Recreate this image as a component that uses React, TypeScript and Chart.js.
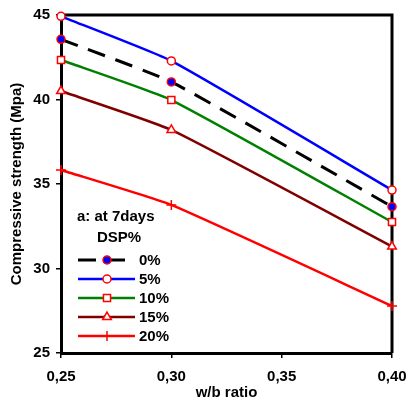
import React, { useEffect, useRef } from 'react';
import { Chart, registerables } from 'chart.js';
import { drawPoint } from 'chart.js/helpers';

Chart.register(...registerables);

const wbRatio = [0.25, 0.3, 0.4];
const dsp0 = [43.56, 41.04, 33.66];
const dsp5 = [44.92, 42.28, 34.64];
const dsp10 = [42.34, 39.97, 32.75];
const dsp15 = [40.5, 38.2, 31.3];
const dsp20 = [35.83, 33.76, 27.78];
const seriesLabels = ['0%', '5%', '10%', '15%', '20%'];
const xTickValues = [0.25, 0.3, 0.35, 0.4];
const xTickLabels = ['0,25', '0,30', '0,35', '0,40'];
const yTickValues = [25, 30, 35, 40, 45];
const legendTitle = ['a: at 7days', 'DSP%'];

const FONT = "'Liberation Sans', Arial, sans-serif";

const toPoints = (vals: number[]) => vals.map((y, i) => ({ x: wbRatio[i], y }));

// frame on top/right edges of the plot
const framePlugin = {
  id: 'frame',
  beforeDatasetsDraw(chart: any) {
    const { ctx, chartArea: a } = chart;
    ctx.save();
    ctx.strokeStyle = '#000';
    ctx.lineWidth = 3;
    ctx.beginPath();
    ctx.moveTo(a.left, a.top);
    ctx.lineTo(a.right, a.top);
    ctx.lineTo(a.right, a.bottom);
    ctx.stroke();
    ctx.restore();
  },
};

// legend inside the plot, lower left
const insideLegend = {
  id: 'insideLegend',
  afterDatasetsDraw(chart: any) {
    const { ctx, chartArea: a } = chart;
    const x0 = a.left + 17;
    ctx.save();
    ctx.fillStyle = '#000';
    ctx.font = `bold 15px ${FONT}`;
    ctx.textBaseline = 'middle';
    ctx.textAlign = 'left';
    ctx.fillText(legendTitle[0], x0 - 1, a.top + 202);
    ctx.fillText(legendTitle[1], x0 + 19, a.top + 223);

    chart.data.datasets.forEach((ds: any, i: number) => {
      const y = a.top + 245 + i * 19;
      const end = i === 0 ? x0 + 52 : x0 + 57;
      ctx.save();
      ctx.strokeStyle = ds.borderColor;
      ctx.lineWidth = ds.borderWidth;
      ctx.setLineDash(ds.borderDash || []);
      ctx.beginPath();
      ctx.moveTo(x0, y);
      ctx.lineTo(end, y);
      ctx.stroke();
      ctx.setLineDash([]);
      ctx.fillStyle = ds.pointBackgroundColor;
      ctx.strokeStyle = ds.pointBorderColor;
      ctx.lineWidth = ds.pointBorderWidth;
      drawPoint(ctx, { pointStyle: ds.pointStyle, radius: ds.pointRadius, rotation: 0, borderWidth: ds.pointBorderWidth }, x0 + 29, y);
      ctx.restore();
      ctx.fillStyle = '#000';
      ctx.fillText(ds.label, x0 + 61, y + 1);
    });
    ctx.restore();
  },
};

export default function App() {
  const canvasRef = useRef<HTMLCanvasElement>(null);
  const chartRef = useRef<Chart | null>(null);

  useEffect(() => {
    if (!canvasRef.current) return;
    if (chartRef.current) chartRef.current.destroy();

    const common = { tension: 0.15, clip: false as any, pointBorderColor: '#ff0000', pointBorderWidth: 1.5 };

    chartRef.current = new Chart(canvasRef.current, {
      type: 'line',
      data: {
        datasets: [
          { ...common, label: seriesLabels[0], data: toPoints(dsp0), borderColor: '#000000', borderWidth: 3, borderDash: [18, 11], pointStyle: 'circle', pointRadius: 4, pointBackgroundColor: '#0000ff' },
          { ...common, label: seriesLabels[1], data: toPoints(dsp5), borderColor: '#0000ff', borderWidth: 2.5, pointStyle: 'circle', pointRadius: 4, pointBackgroundColor: '#ffffff' },
          { ...common, label: seriesLabels[2], data: toPoints(dsp10), borderColor: '#008000', borderWidth: 2.5, pointStyle: 'rect', pointRadius: 5, pointBackgroundColor: '#ffffff' },
          { ...common, label: seriesLabels[3], data: toPoints(dsp15), borderColor: '#800000', borderWidth: 2.5, pointStyle: 'triangle', pointRadius: 5, pointBackgroundColor: '#ffffff' },
          { ...common, label: seriesLabels[4], data: toPoints(dsp20), borderColor: '#ff0000', borderWidth: 2.5, pointStyle: 'cross', pointRadius: 5, pointBackgroundColor: '#ff0000' },
        ] as any,
      },
      options: {
        responsive: false,
        animation: false,
        layout: { padding: { top: 15, right: 17, left: 0, bottom: 0 } },
        plugins: {
          legend: { display: false },
          tooltip: { enabled: false },
        },
        scales: {
          x: {
            type: 'linear',
            min: 0.25,
            max: 0.4,
            afterBuildTicks: (scale: any) => {
              scale.ticks = xTickValues.map(v => ({ value: v }));
            },
            afterFit: (scale: any) => {
              scale.height = 47;
              scale.paddingLeft = 0;
              scale.paddingRight = 0;
            },
            ticks: {
              color: '#000',
              font: { family: FONT, size: 15, weight: 'bold' },
              padding: 10,
              maxRotation: 0,
              autoSkip: false,
              callback: (_v: any, i: number) => xTickLabels[i],
            },
            grid: { drawOnChartArea: false, drawTicks: true, tickLength: 5, color: '#000', lineWidth: 1.5 },
            border: { color: '#000', width: 3 },
            title: {
              display: true,
              text: 'w/b ratio',
              color: '#000',
              font: { family: FONT, size: 15, weight: 'bold' },
              padding: { top: 0, bottom: -2 },
            },
          },
          y: {
            min: 25,
            max: 45,
            afterBuildTicks: (scale: any) => {
              scale.ticks = yTickValues.map(v => ({ value: v }));
            },
            afterFit: (scale: any) => {
              scale.width = 61;
              scale.paddingTop = 0;
              scale.paddingBottom = 0;
            },
            ticks: {
              color: '#000',
              font: { family: FONT, size: 15, weight: 'bold' },
              padding: 6,
              callback: (v: any) => String(v),
            },
            grid: { drawOnChartArea: false, drawTicks: true, tickLength: 5, color: '#000', lineWidth: 1.5 },
            border: { color: '#000', width: 3 },
            title: {
              display: true,
              text: 'Compressive strength (Mpa)',
              color: '#000',
              font: { family: FONT, size: 15, weight: 'bold' },
              padding: { top: 8, bottom: 0 },
            },
          },
        },
      },
      plugins: [framePlugin, insideLegend],
    });

    return () => {
      if (chartRef.current) {
        chartRef.current.destroy();
        chartRef.current = null;
      }
    };
  }, []);

  return (
    <div style={{ position: 'fixed', left: 0, top: 0, width: 409, height: 400, background: '#fff' }}>
      <canvas ref={canvasRef} width={409} height={400}></canvas>
    </div>
  );
}
